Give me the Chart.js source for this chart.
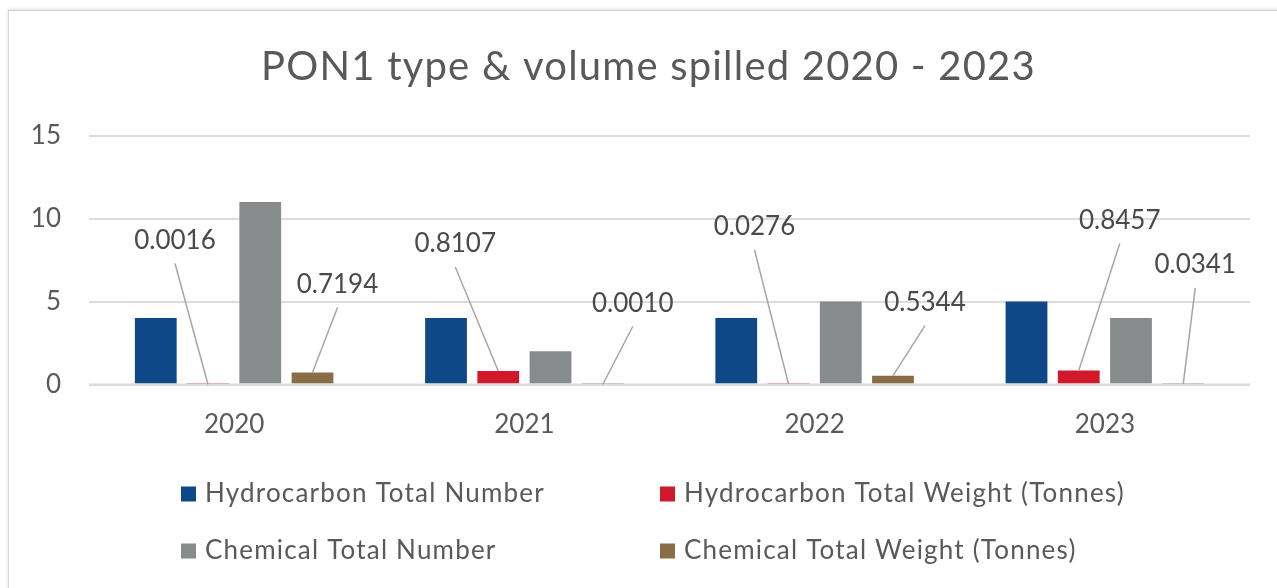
<!DOCTYPE html>
<html><head><meta charset="utf-8">
<script src="https://cdn.jsdelivr.net/npm/chart.js@4.4.0/dist/chart.umd.min.js"></script>
<style>
html,body{margin:0;padding:0;background:#fff;}
#wrap{position:relative;width:1277px;height:588px;overflow:hidden;background:#fff;}
#frame{position:absolute;left:8px;top:10px;width:1300px;height:620px;border-left:1px solid #d6d6d6;border-top:1px solid #cfcfcf;box-shadow:0 -1px 3px rgba(0,0,0,0.12);background:#fff;}
canvas{position:absolute;left:0;top:0;}
</style></head><body>
<div id="wrap"><div id="frame"></div><canvas id="c" width="1277" height="588"></canvas></div>
<script>
// ---- data ----
const categories = ['2020', '2021', '2022', '2023'];
const hydroNumber = [4, 4, 4, 5];
const hydroWeight = [0.0016, 0.8107, 0.0276, 0.8457];
const chemNumber = [11, 2, 5, 4];
const chemWeight = [0.7194, 0.0010, 0.5344, 0.0341];
const yTicks = [0, 5, 10, 15];
const seriesNames = ['Hydrocarbon Total Number', 'Hydrocarbon Total Weight (Tonnes)', 'Chemical Total Number', 'Chemical Total Weight (Tonnes)'];
const chartTitle = 'PON1 type & volume spilled 2020 - 2023';

// ---- style ----
const FONT = 'Lato';
const TEXT = '#595959';
const colors = ['#0F4886', '#D2192C', '#878B8B', '#8A6C46'];
// label placement (pixel offsets of label centre from the bar top), per weight series
const labelOffsets = {
  1: [[-33, -144], [-43, -127], [-34, -157], [41, -150]],
  3: [[25, -88], [30, -81], [32, -73], [12, -119]]
};
const legendLayout = { cols: [181, 660], rows: [494, 551], box: 15, gap: 9, size: 26, spacing: '1.2px' };
const titleLayout = { y: 67, size: 40, spacing: '1.2px' };

const zeroLine = {
  id: 'zeroLine',
  afterDatasetsDraw(chart) {
    const ctx = chart.ctx, y = chart.scales.y.getPixelForValue(0), a = chart.chartArea;
    ctx.save();
    ctx.strokeStyle = '#dcdcdc';
    ctx.lineWidth = 2;
    ctx.beginPath();
    ctx.moveTo(a.left, y);
    ctx.lineTo(a.right, y);
    ctx.stroke();
    ctx.restore();
  }
};

const leaderLabels = {
  id: 'leaderLabels',
  afterDatasetsDraw(chart) {
    const ctx = chart.ctx;
    ctx.save();
    chart.data.datasets.forEach((ds, di) => {
      const offs = labelOffsets[di];
      if (!offs) return;
      const meta = chart.getDatasetMeta(di);
      meta.data.forEach((el, j) => {
        const lx = el.x + offs[j][0], ly = el.y + offs[j][1];
        ctx.strokeStyle = '#a6a6a6';
        ctx.lineWidth = 1.5;
        ctx.beginPath();
        ctx.moveTo(lx, ly + 23);
        ctx.lineTo(el.x, el.y);
        ctx.stroke();
        ctx.fillStyle = '#4a4a4a';
        ctx.font = '26px ' + FONT;
        ctx.textAlign = 'center';
        ctx.textBaseline = 'middle';
        ctx.fillText(ds.data[j].toFixed(4), lx, ly);
      });
    });
    ctx.restore();
  }
};

const titleAndLegend = {
  id: 'titleAndLegend',
  afterDraw(chart) {
    const ctx = chart.ctx;
    ctx.save();
    ctx.fillStyle = TEXT;
    ctx.font = titleLayout.size + 'px ' + FONT;
    ctx.letterSpacing = titleLayout.spacing;
    ctx.textAlign = 'center';
    ctx.textBaseline = 'middle';
    ctx.fillText(chartTitle, (chart.width) / 2 + 10, titleLayout.y);

    ctx.font = legendLayout.size + 'px ' + FONT;
    ctx.letterSpacing = legendLayout.spacing;
    ctx.textAlign = 'left';
    chart.data.datasets.forEach((ds, i) => {
      const x = legendLayout.cols[i % 2];
      const y = legendLayout.rows[Math.floor(i / 2)];
      ctx.fillStyle = ds.backgroundColor;
      ctx.fillRect(x, y - legendLayout.box / 2, legendLayout.box, legendLayout.box);
      ctx.fillStyle = TEXT;
      ctx.fillText(ds.label, x + legendLayout.box + legendLayout.gap, y);
    });
    ctx.restore();
  }
};

const datasets = [hydroNumber, hydroWeight, chemNumber, chemWeight].map((d, i) => ({
  label: seriesNames[i],
  data: d,
  backgroundColor: colors[i],
  categoryPercentage: 0.72,
  barPercentage: 0.8
}));

new Chart(document.getElementById('c'), {
  type: 'bar',
  data: { labels: categories, datasets },
  plugins: [zeroLine, leaderLabels, titleAndLegend],
  options: {
    responsive: false,
    animation: false,
    devicePixelRatio: 1,
    layout: { padding: { left: 0, right: 27, top: 135.5, bottom: 0 } },
    plugins: {
      legend: { display: false },
      tooltip: { enabled: false },
      title: { display: false }
    },
    scales: {
      x: {
        grid: { display: false },
        border: { display: false },
        ticks: { color: TEXT, font: { family: FONT, size: 26 }, padding: 17 },
        afterFit: s => { s.height = 203.5; }
      },
      y: {
        min: 0, max: 15,
        afterBuildTicks: s => { s.ticks = yTicks.map(v => ({ value: v })); },
        grid: { color: '#dcdcdc', lineWidth: 2, drawTicks: false },
        border: { display: false },
        ticks: { color: TEXT, font: { family: FONT, size: 26 }, padding: 28 },
        afterFit: s => { s.width = 89; }
      }
    }
  }
});
</script>
</body></html>
